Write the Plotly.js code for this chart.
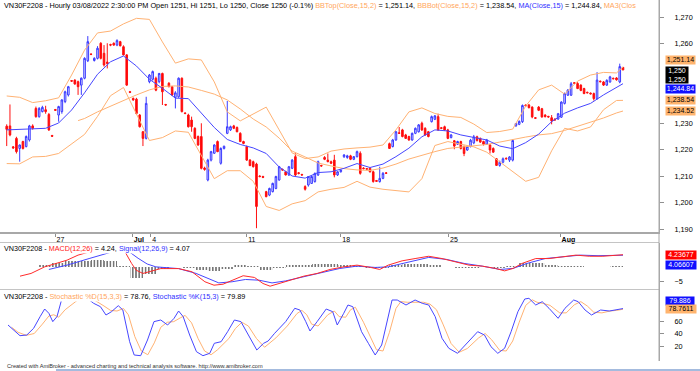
<!DOCTYPE html>
<html><head><meta charset="utf-8">
<script src="https://cdn.plot.ly/plotly-3.0.1.min.js"></script>
<style>html,body{margin:0;padding:0;background:#fff}#chart{width:700px;height:371px}</style>
</head><body><div id="chart"></div>
<script>
// ---- Price bars (hourly, VN30F2208) ----
const openP=[1228.8,1228.9,1221.0,1224.2,1220.4,1223.0,1221.1,1223.6,1228.9,1235.5,1232.4,1234.3,1235.0,1233.2,1225.3,1235.1,1233.0,1234.3,1238.1,1240.6,1246.0,1246.2,1245.6,1244.3,1246.9,1253.5,1256.0,1253.6,1254.4,1260.1,1256.3,1253.0,1259.6,1260.1,1259.4,1260.7,1258.8,1255.7,1241.8,1239.3,1239.0,1233.0,1226.7,1224.2,1245.6,1246.5,1246.9,1245.6,1248.7,1237.0,1245.0,1243.7,1239.7,1239.9,1246.9,1233.8,1233.0,1231.1,1228.0,1224.9,1224.9,1213.0,1208.5,1216.0,1218.6,1223.0,1214.8,1220.4,1226.1,1227.4,1228.9,1228.3,1226.1,1223.0,1221.1,1216.0,1215.4,1214.5,1210.0,1209.8,1204.1,1202.8,1204.1,1205.3,1208.5,1212.5,1211.6,1210.4,1212.9,1217.3,1211.2,1210.6,1206.0,1206.6,1207.2,1207.9,1210.4,1214.0,1217.0,1216.0,1215.4,1216.0,1210.4,1211.6,1217.3,1217.0,1217.6,1216.3,1217.3,1218.6,1213.0,1212.8,1212.9,1211.6,1208.3,1207.9,1209.1,1211.2,1222.2,1221.1,1223.6,1226.3,1227.4,1225.5,1224.9,1223.6,1226.1,1226.7,1229.9,1228.0,1226.7,1230.5,1231.4,1232.4,1228.2,1228.6,1227.4,1224.5,1223.3,1222.0,1223.0,1221.0,1219.8,1221.1,1222.5,1224.8,1224.2,1223.0,1222.0,1221.7,1220.4,1216.5,1214.0,1215.2,1216.7,1216.0,1216.0,1229.0,1229.5,1230.5,1236.8,1236.8,1236.0,1232.0,1236.0,1235.4,1233.0,1232.5,1232.0,1231.5,1231.5,1232.2,1237.4,1240.5,1240.5,1245.2,1244.9,1244.3,1243.0,1241.6,1241.3,1241.1,1239.2,1245.8,1245.5,1244.3,1245.5,1246.9,1247.0,1245.5,1251.0];
const highP=[1229.5,1237.0,1221.3,1224.8,1221.9,1223.3,1225.3,1229.3,1229.5,1236.2,1236.0,1236.5,1236.5,1233.8,1225.5,1235.3,1236.5,1239.0,1242.2,1244.0,1246.2,1246.5,1246.0,1247.2,1254.8,1262.8,1256.3,1254.8,1259.0,1260.5,1259.4,1260.1,1259.9,1260.4,1261.6,1261.0,1259.3,1256.0,1242.1,1239.6,1239.5,1233.4,1227.0,1239.9,1248.5,1249.8,1247.5,1248.9,1249.0,1237.2,1245.4,1244.0,1242.0,1247.2,1247.2,1234.0,1233.5,1232.4,1228.4,1225.3,1229.9,1213.5,1216.5,1219.5,1222.0,1223.4,1220.8,1221.5,1238.3,1229.0,1229.3,1228.7,1226.5,1223.3,1221.5,1216.4,1215.8,1215.0,1210.3,1210.1,1204.4,1205.6,1207.5,1210.1,1213.8,1212.8,1212.0,1213.8,1216.4,1218.6,1211.5,1210.8,1206.5,1210.0,1210.2,1211.3,1215.8,1214.2,1217.5,1218.5,1215.8,1218.0,1211.8,1212.5,1218.3,1218.0,1218.0,1217.5,1219.6,1219.3,1213.3,1213.0,1213.2,1212.0,1208.5,1213.5,1211.5,1211.5,1222.6,1224.0,1227.0,1228.5,1227.8,1225.9,1225.2,1226.4,1228.3,1229.6,1230.5,1228.4,1227.0,1232.8,1233.0,1233.5,1228.5,1229.0,1227.8,1225.8,1223.6,1223.3,1223.3,1221.5,1221.4,1224.0,1225.5,1225.2,1224.5,1223.3,1224.0,1222.0,1220.8,1216.8,1215.8,1217.0,1217.0,1217.5,1223.8,1230.0,1231.0,1237.0,1237.0,1237.2,1236.3,1232.2,1236.4,1235.7,1233.3,1232.7,1233.0,1231.7,1233.8,1238.2,1241.5,1242.8,1245.5,1245.4,1245.4,1244.6,1243.3,1241.8,1241.5,1241.5,1249.2,1246.0,1245.8,1246.5,1247.8,1247.1,1247.3,1252.4,1251.0];
const lowP=[1221.3,1225.0,1220.3,1218.5,1215.4,1220.0,1220.8,1223.0,1227.5,1232.0,1232.0,1234.0,1233.5,1227.0,1224.8,1234.6,1230.5,1233.5,1237.5,1240.0,1245.5,1244.5,1240.6,1240.6,1246.5,1253.0,1255.6,1253.2,1254.0,1254.0,1251.3,1250.6,1259.0,1259.2,1259.0,1259.0,1255.5,1244.0,1241.3,1238.4,1233.2,1228.3,1221.3,1223.8,1245.0,1246.0,1242.0,1245.0,1236.8,1236.5,1243.5,1240.2,1235.5,1239.5,1234.0,1233.3,1228.3,1226.7,1223.9,1221.4,1212.5,1212.0,1208.0,1215.5,1218.3,1219.0,1214.3,1220.0,1225.8,1227.0,1227.7,1226.5,1222.8,1222.0,1215.7,1213.8,1213.2,1190.3,1209.5,1209.2,1202.0,1202.4,1203.8,1205.0,1208.2,1212.0,1210.2,1210.0,1212.6,1210.0,1210.6,1210.1,1204.5,1206.0,1207.0,1207.5,1210.0,1213.5,1216.0,1215.2,1214.5,1209.5,1210.0,1211.3,1216.8,1216.5,1216.0,1216.0,1217.0,1210.5,1212.5,1212.2,1211.3,1207.5,1207.8,1207.5,1208.8,1210.8,1220.2,1220.8,1223.3,1225.9,1224.6,1224.0,1223.3,1223.3,1225.8,1226.4,1227.0,1225.2,1224.6,1230.2,1231.1,1227.0,1227.7,1227.1,1223.9,1224.2,1220.1,1221.7,1220.0,1217.5,1219.5,1220.8,1222.0,1223.0,1222.5,1221.5,1221.8,1218.5,1218.8,1213.8,1213.5,1214.8,1216.2,1215.3,1215.5,1228.5,1229.2,1230.0,1236.3,1235.5,1231.8,1231.5,1234.5,1232.0,1232.1,1232.0,1229.5,1230.8,1231.2,1231.9,1237.0,1240.2,1240.2,1244.7,1242.8,1242.0,1240.9,1241.2,1240.8,1238.5,1238.8,1245.3,1244.0,1244.0,1245.2,1246.5,1246.0,1245.0,1250.0];
const closeP=[1227.6,1225.5,1220.6,1219.2,1221.7,1220.4,1224.9,1228.9,1228.0,1232.4,1235.5,1235.9,1234.3,1227.4,1225.0,1234.8,1236.2,1238.7,1241.8,1243.7,1245.8,1244.7,1243.7,1246.9,1254.4,1260.7,1255.9,1254.4,1258.2,1254.4,1251.9,1252.5,1259.4,1259.4,1261.1,1259.1,1255.7,1244.3,1241.6,1238.7,1233.6,1228.6,1224.2,1237.4,1248.1,1249.4,1242.4,1248.7,1241.8,1236.8,1243.7,1240.6,1241.4,1246.9,1234.3,1233.6,1228.6,1228.6,1224.2,1221.7,1212.9,1212.5,1216.0,1219.2,1221.7,1219.2,1220.4,1221.2,1228.6,1228.6,1228.0,1226.7,1223.0,1222.3,1216.0,1213.9,1213.5,1198.5,1209.8,1209.5,1202.2,1205.3,1207.2,1209.8,1213.5,1212.3,1210.4,1213.5,1216.0,1210.4,1211.0,1210.4,1205.0,1209.8,1209.8,1211.0,1215.4,1213.8,1216.3,1215.4,1214.8,1210.4,1211.6,1212.2,1217.9,1217.6,1216.3,1217.3,1219.2,1211.0,1212.8,1212.6,1211.6,1207.9,1208.0,1209.1,1211.0,1211.0,1220.4,1223.6,1226.7,1226.1,1224.9,1224.2,1223.6,1226.1,1228.0,1229.3,1227.4,1225.5,1224.9,1232.4,1232.7,1227.4,1228.0,1227.4,1224.2,1225.5,1221.3,1223.0,1220.4,1218.5,1221.1,1223.5,1224.8,1223.4,1222.8,1222.0,1223.6,1219.8,1219.0,1214.0,1215.2,1216.5,1216.5,1217.2,1223.4,1229.8,1230.6,1236.6,1236.5,1235.8,1232.3,1231.8,1234.8,1232.3,1232.4,1232.3,1230.8,1231.2,1233.5,1237.9,1241.1,1242.4,1244.8,1245.0,1243.0,1242.3,1241.1,1241.4,1241.0,1239.2,1246.2,1245.6,1244.3,1246.1,1247.4,1246.7,1246.3,1251.3,1250.0];
const barIdx=openP.map((_,i)=>i);

// ---- Price-panel indicator lines (read every 4 bars) ----
const lineIdx=[0,4,8,12,16,20,24,28,32,36,40,44,48,52,56,60,64,68,72,76,80,84,88,92,96,100,104,108,112,116,120,124,128,132,136,140,144,148,152,156,160,164,168,172,176,180,184,188,190];
const ma15=[1227.4,1227.6,1227.6,1228.0,1230.0,1234.9,1241.4,1248.4,1253.1,1255.3,1251.5,1246.5,1243.1,1239.4,1239.2,1233.9,1228.3,1223.8,1221.9,1220.6,1218.5,1213.4,1210.0,1209.2,1211.3,1211.6,1212.9,1214.7,1213.2,1214.5,1217.3,1220.5,1224.8,1227.4,1227.0,1225.5,1224.6,1223.6,1221.3,1220.3,1222.6,1225.8,1230.5,1233.7,1235.7,1237.4,1240.6,1243.3,1244.84];
const bbTop=[1240.2,1239.7,1237.7,1238.4,1239.5,1248.1,1257.5,1264.0,1264.7,1267.4,1269.5,1269.1,1260.6,1252.6,1254.2,1253.8,1245.5,1234.2,1230.8,1233.4,1236.0,1227.4,1218.7,1216.6,1217.2,1219.4,1220.2,1220.6,1220.9,1221.7,1227.4,1234.2,1235.7,1233.6,1232.5,1232.1,1229.6,1226.4,1226.8,1227.7,1236.4,1242.5,1244.3,1240.9,1245.8,1248.1,1249.1,1248.9,1251.14];
const bbBot=[1214.7,1214.6,1217.2,1217.4,1218.5,1222.0,1225.7,1232.5,1240.3,1243.4,1233.5,1223.4,1224.5,1227.0,1226.5,1217.5,1209.0,1212.0,1212.0,1208.0,1198.5,1197.0,1199.5,1200.7,1204.0,1205.0,1205.7,1208.0,1205.8,1205.0,1204.5,1204.0,1209.0,1221.5,1223.0,1222.0,1221.0,1219.0,1215.3,1211.5,1208.0,1209.5,1219.5,1228.0,1227.0,1228.5,1235.0,1238.5,1238.54];
const ma3Idx=[22,24,28,32,36,40,44,48,52,56,60,64,68,72,76,80,84,88,92,96,100,104,108,112,116,120,124,128,132,136,140,144,148,152,156,160,164,168,172,176,180,184,188,190];
const ma3=[1230.9,1231.7,1234.2,1236.4,1238.7,1240.6,1242.5,1243.8,1244.0,1243.6,1242.3,1240.9,1238.7,1235.3,1231.5,1228.5,1224.3,1219.4,1217.2,1214.9,1213.8,1212.8,1212.3,1212.1,1213.0,1214.5,1216.4,1217.9,1219.2,1220.4,1220.9,1221.3,1221.9,1222.8,1223.8,1224.7,1225.5,1226.0,1227.2,1228.7,1230.4,1231.9,1233.8,1234.52];

// ---- MACD panel ----
const macdIdx=[4.1,7.5,11.7,14.5,18.6,22,25.4,28.2,31.5,34.3,36.5,38.5,39.9,42,44.8,47.5,53,57.1,61.1,63.9,66.7,69.5,72.9,76.4,79,81.2,84,87.4,91.6,95.7,99.7,103.9,108,112.2,115,117.6,121.9,125.9,130.1,134.2,138.2,142.5,146.6,150.7,153.5,156.1,158.9,163.1,167.2,171.4,175.5,179.6,183.8,190];
const macdVal=[-3.25,-2.3,0,0.94,2.34,4.1,5.2,6.4,7.6,7.0,5.2,1.2,-1.15,-2.3,-1.4,-0.6,-0.6,-1.7,-5.2,-6.4,-6.05,-4.65,-3.1,-3.7,-5.8,-6.75,-5.8,-4.4,-3.25,-2.3,-0.9,0,0.6,-0.2,-0.9,0.6,2.1,2.9,3.7,2.9,1.75,0.6,0.25,-0.55,-1.4,-0.55,1.2,2.9,2.9,3.5,4.1,3.7,3.7,4.23677];
const sigIdx=[13,18.6,25.4,31.5,35.1,37.1,40.5,43.3,46,53,58.4,62.7,65.4,69.5,73.6,77.8,81.8,86,91.6,97,102.5,108,113.6,117.6,124.6,130.1,135.6,141,146.6,152.1,156.1,160.4,166,171.4,176.8,182.3,190];
const sigVal=[-0.9,0.6,2.9,4.9,6.4,5.8,3.0,1.0,0.0,-0.6,-2.3,-4.4,-5.6,-5.2,-4.4,-4.65,-5.6,-4.9,-3.5,-2.1,-0.6,0.25,-0.2,0,1.75,3.3,2.6,1.2,0.25,-0.9,-0.55,1.2,2.9,3.5,4.1,3.9,4.06607];
const histIdx=[12,16,20,24,28,32,36,40,44,48,52,56,60,64,68,72,76,80,84,88,92,96,100,104,108,112,116,120,124,128,132,136,140,144,148,152,156,160,164,168,172,176,180,184,188];
const histVal=[0.6,1.5,1.9,2.2,2.3,2.0,0.2,-4.0,-2.5,-0.8,-0.2,-0.5,-1.2,-1.4,-0.6,0.6,0.3,-1.0,-0.4,0.6,0.8,0.9,1.0,0.8,0.3,-0.3,-0.5,0.6,1.0,1.1,0.5,-0.2,-0.5,-0.5,-0.2,-0.4,0.2,1.2,1.4,0.8,0.3,0.2,-0.1,0.1,0.2];

// ---- Stochastic panel ----
const kIdx=[0.4,2.1,4.1,6.2,8.3,10.3,11.7,13.0,14.2,15.5,16.9,20.8,23.2,24.8,26.8,28.9,30.6,32.3,34.4,35.8,37.9,39.3,41.3,43.4,45.4,47.5,49.6,51.6,53.0,54.4,56.4,58.5,60.5,62.6,64.0,66.1,68.1,70.2,72.2,74.3,77.1,79.2,80.6,82.6,86.0,88.8,90.4,92.2,93.5,95.7,98.5,100.5,101.9,103.9,105.2,106.7,109.4,111.5,113.6,115.6,117.7,118.8,120.4,123.1,125.9,128.1,130.1,132.1,134.2,136.3,139.0,141.8,145.2,147.3,149.3,151.4,153.5,155.5,157.6,159.7,161.0,163.1,165.1,167.2,170.0,172.1,174.8,176.2,178.3,180.3,183.1,185.8,187.9,190];
const kVal=[53.6,45.6,36.5,37.6,48.3,67,79.2,72.3,59,67,93.6,99,97,96.3,88.3,82.9,69.6,74.9,84.5,77.6,26.9,5.6,4.5,29.6,59,61.6,53.6,64.3,76,67,37.6,10.9,4.5,8.3,24.3,26.9,42.9,61.6,59,40.3,13.6,24.3,28,40.3,59,80.3,77.6,59,44,59,79.2,74.9,53.6,72.3,85.6,82.9,42.9,24.3,5.6,21.6,69.6,93.6,93.6,85.6,93.6,88.3,85.6,67,32.3,16.3,8.3,24.3,42.9,37.6,18.9,8.3,16.3,42.9,74.9,95.2,96.3,85.6,90.9,80.3,64.3,80.3,93.6,90.9,77.6,69.6,77.6,76,77.6,79.886];
const dIdx=[1.5,3.5,6,8.5,11,13,14.5,16,18,22,25.5,27.5,30,32,34,36,37.5,39.5,41.5,43.5,45.5,47.5,49.5,51.5,53.5,55,57,59,61,63,65,66.5,68.5,70.5,72.5,74.5,77,79.5,81,83,86.5,89.5,91,92.5,94,96,99,101,102.5,104.5,106,107.5,110,112,114,116,118,120,121.5,123.5,126.5,128.5,130.5,132.5,134.5,137,139.5,142,145.5,147.5,149.5,152,154,156,158,160,162,163.5,165.5,167.5,170.5,172.5,175,177,179,181,183.5,186,188,190];
const dVal=[50,42,37,40,55,68,70,66,78,94,97,92,84,77,76,80,70,35,12,6,25,50,58,59,65,69,57,32,12,6,14,22,32,48,58,52,32,18,24,33,52,72,77,70,55,52,70,76,67,66,78,82,58,35,14,12,42,80,91,90,90,90,87,78,55,24,10,16,33,40,30,13,12,28,58,85,94,90,88,85,73,73,86,91,84,74,73,76,77,78.7611];

// ---- Axis ticks (labels hidden behind value boxes in the reference are left out) ----
const dateTickIdx=[14.9,38.7,44.4,74,103,136.2,170.6];
const dateTickText=['27','<b>Jul</b>','4','11','18','25','<b>Aug</b>'];
const priceTicks=[1190,1200,1210,1220,1230,1260,1270];
const macdTicks=[-5];
const stochTicks=[20,40,60];

// ---- styling ----
const FONT='"Liberation Sans", Arial, sans-serif';
const OR='#ffb273', BL='#4646ff', RD='#ff2a2a';
const last=a=>a[a.length-1];
const fmt2=v=>v.toLocaleString('en-US',{minimumFractionDigits:2,maximumFractionDigits:2});
const n=closeP.length;
const pct=((closeP[n-1]-closeP[n-2])/closeP[n-2]*100).toFixed(1);

const traces=[
 {type:'candlestick',x:barIdx,open:openP,high:highP,low:lowP,close:closeP,xaxis:'x',yaxis:'y',
  increasing:{line:{color:'#3a3aff',width:1},fillcolor:'#dedeff'},
  decreasing:{line:{color:'#ff1010',width:1},fillcolor:'#ff0000'},whiskerwidth:0,hoverinfo:'skip'},
 {type:'scatter',mode:'lines',x:lineIdx,y:bbTop,line:{color:OR,width:1},hoverinfo:'skip'},
 {type:'scatter',mode:'lines',x:lineIdx,y:bbBot,line:{color:OR,width:1},hoverinfo:'skip'},
 {type:'scatter',mode:'lines',x:ma3Idx,y:ma3,line:{color:OR,width:1},hoverinfo:'skip'},
 {type:'scatter',mode:'lines',x:lineIdx,y:ma15,line:{color:BL,width:1},hoverinfo:'skip'},
 {type:'bar',x:histIdx,y:histVal,xaxis:'x',yaxis:'y2',width:4,hoverinfo:'skip',
  marker:{color:'rgba(255,255,255,0)',line:{width:0},pattern:{shape:'|',fgcolor:'#3a3a3a',bgcolor:'rgba(255,255,255,0)',size:3.2,solidity:0.35}}},
 {type:'scatter',mode:'lines',x:sigIdx,y:sigVal,xaxis:'x',yaxis:'y2',line:{color:BL,width:1},hoverinfo:'skip'},
 {type:'scatter',mode:'lines',x:macdIdx,y:macdVal,xaxis:'x',yaxis:'y2',line:{color:RD,width:1},hoverinfo:'skip'},
 {type:'scatter',mode:'lines',x:dIdx,y:dVal,xaxis:'x',yaxis:'y3',line:{color:OR,width:1},hoverinfo:'skip'},
 {type:'scatter',mode:'lines',x:kIdx,y:kVal,xaxis:'x',yaxis:'y3',line:{color:BL,width:1},hoverinfo:'skip'}
];

const H=361; // plot area height in px (t=0,b=10)
const py=px=>(H-px)/H;
const yAx=(dom,rng,tv,extra)=>Object.assign({domain:dom,range:rng,side:'right',anchor:'x',showgrid:false,zeroline:false,
  showline:true,linecolor:'#a8a8a8',linewidth:1,ticks:'outside',ticklen:4,tickcolor:'#909090',tickvals:tv,
  tickfont:{size:7.3,color:'#000'},ticklabelstandoff:9,fixedrange:true},extra||{});

const span=(c,t)=>`<span style="color:${c}">${t}</span>`;
const mainTitle=`VN30F2208 - Hourly 03/08/2022 2:30:00 PM Open ${openP[n-1]}, Hi ${highP[n-1]}, Lo ${lowP[n-1]}, Close ${closeP[n-1]} (${pct}%) `+
  span('#ffa65c','BBTop(Close,15,2)')+` = ${fmt2(last(bbTop))}, `+span('#ffa65c','BBBot(Close,15,2)')+` = ${fmt2(last(bbBot))}, `+
  span('#3030ff','MA(Close,15)')+` = ${fmt2(last(ma15))}, `+span('#ffa65c','MA3(Clos');
const macdTitle='VN30F2208 - '+span('#ff2020','MACD(12,26)')+` = ${last(macdVal).toFixed(2)}, `+span('#3030ff','Signal(12,26,9)')+` = ${last(sigVal).toFixed(2)}`;
const stochTitle='VN30F2208 - '+span('#ffa65c','Stochastic %D(15,3,3)')+` = ${last(dVal).toFixed(2)}, `+span('#3030ff','Stochastic %K(15,3)')+` = ${last(kVal).toFixed(2)}`;

const box=(yref,y,ys,txt,bg,fc,w,h)=>({xref:'paper',yref:yref,x:1,y:y,xanchor:'left',yanchor:'middle',xshift:6,yshift:ys,
  text:txt,showarrow:false,bgcolor:bg,font:{size:7,color:fc,family:FONT},borderpad:0,width:w||29,height:h||7.5,align:'center',valign:'middle'});

const annotations=[
 {xref:'paper',yref:'paper',x:0.0045,y:py(5.5),xanchor:'left',yanchor:'middle',showarrow:false,text:mainTitle,font:{size:7.3,color:'#000'},bgcolor:'#ffffff',borderpad:0},
 {xref:'paper',yref:'paper',x:0.0045,y:py(248.3),xanchor:'left',yanchor:'middle',showarrow:false,text:macdTitle,font:{size:7.2,color:'#000'},bgcolor:'#ffffff',borderpad:0},
 {xref:'paper',yref:'paper',x:0.0045,y:py(296.5),xanchor:'left',yanchor:'middle',showarrow:false,text:stochTitle,font:{size:7.3,color:'#000'},bgcolor:'#ffffff',borderpad:0},
 {xref:'paper',yref:'paper',x:0.0075,y:py(365.5),xanchor:'left',yanchor:'middle',showarrow:false,
  text:'Created with AmiBroker - advanced charting and technical analysis software. http://www.amibroker.com',font:{size:5.6,color:'#303030'}},
 box('y',last(bbTop),6.6,fmt2(last(bbTop)),'#ffb46e','#000'),
 box('y',last(closeP),-4.5,closeP[n-1].toLocaleString('en-US')+'<br>'+closeP[n-1].toLocaleString('en-US'),'#000000','#fff',22,16),
 box('y',last(ma15),-5.3,fmt2(last(ma15)),'#1010ff','#fff'),
 box('y',last(bbBot),0.4,fmt2(last(bbBot)),'#ffb46e','#000'),
 box('y',last(ma3),0.3,fmt2(last(ma3)),'#ffb46e','#000'),
 box('y2',last(macdVal),-0.7,last(macdVal).toFixed(5),'#ff0000','#fff',30),
 box('y2',last(sigVal),-10,last(sigVal).toFixed(5),'#1010ff','#fff',30),
 box('y3',last(kVal),7.8,last(kVal).toFixed(3),'#1010ff','#fff',28),
 box('y3',last(dVal),-0.2,last(dVal).toFixed(4),'#ffb46e','#000',30)
];

const shapes=[
 {type:'line',xref:'paper',yref:'paper',x0:0,x1:1,y0:py(242.5),y1:py(242.5),line:{color:'#c4c4c4',width:1}},
 {type:'line',xref:'paper',yref:'paper',x0:0,x1:1,y0:py(289.5),y1:py(289.5),line:{color:'#c4c4c4',width:1}},
 {type:'line',xref:'paper',yref:'paper',x0:1,x1:1,y0:0,y1:1,line:{color:'#a8a8a8',width:1}},
 {type:'line',xref:'paper',yref:'paper',x0:56/659,x1:700/659,y0:py(370),y1:py(370),line:{color:'#4a78bd',width:1.2}}
];

const layout={
 width:700,height:371,margin:{l:0,r:41,t:0,b:10,pad:0},
 paper_bgcolor:'#ffffff',plot_bgcolor:'#ffffff',showlegend:false,
 font:{family:FONT,size:7.3,color:'#000'},
 bargap:0,
 xaxis:{domain:[0,1],range:[-2.07,201.1],anchor:'y',showgrid:false,zeroline:false,showline:true,linecolor:'#a8a8a8',linewidth:2,
  ticks:'outside',ticklen:3,tickcolor:'#909090',tickvals:dateTickIdx,ticktext:dateTickText,ticklabelposition:'outside right',
  ticklabelstandoff:0,tickfont:{size:7,color:'#000'},rangeslider:{visible:false},fixedrange:true},
 yaxis:yAx([py(232),1],[1188.87,1276.42],priceTicks,{tickformat:',d'}),
 yaxis2:yAx([py(289.5),py(242.5)],[-7.9,8.5],macdTicks),
 yaxis3:yAx([0,py(289.5)],[-4,110.4],stochTicks),
 annotations:annotations,shapes:shapes
};
Plotly.newPlot('chart',traces,layout,{staticPlot:true,displayModeBar:false});
</script></body></html>
